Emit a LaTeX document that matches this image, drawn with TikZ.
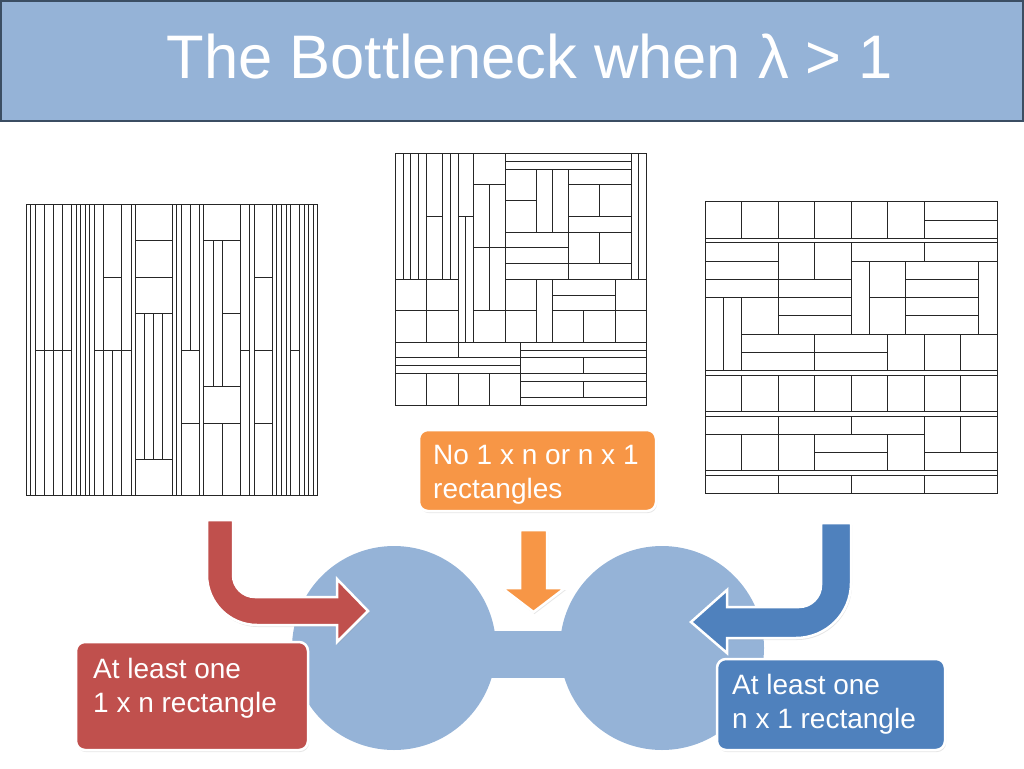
\documentclass[tikz,border=0pt]{standalone}
\usepackage{fontspec}
\setmainfont{Liberation Sans}
\usetikzlibrary{shadows}
\definecolor{blobblue}{HTML}{95B3D7}
\definecolor{titleedge}{HTML}{3B4E63}
\definecolor{boxred}{HTML}{C0504D}
\definecolor{boxorange}{HTML}{F79646}
\definecolor{boxblue}{HTML}{4F81BD}
\begin{document}
\begin{tikzpicture}[x=1pt,y=-1pt,
  tile/.style={draw=black!85, line width=0.7pt},
  blob/.style={fill=blobblue},
  fatarrow/.style={draw=white, line width=2.5pt, drop shadow={opacity=0.2, shadow xshift=1pt, shadow yshift=-2pt}},
  labelbox/.style={rounded corners=9pt, draw=white, line width=2.5pt, drop shadow={opacity=0.2, shadow xshift=1pt, shadow yshift=-2pt}},
  labeltext/.style={text=white, font=\fontsize{28}{34}\selectfont, align=left, inner sep=0pt}]
\useasboundingbox (0,0) rectangle (1024,768);
% title bar
\draw [fill=blobblue, draw=titleedge, line width=2pt] (1,1) rectangle (1023,121);
\node [text=white, font=\fontsize{61.5}{70}\selectfont, anchor=base] (title) at (530,78) {The Bottleneck when λ > 1};
% tiling with 1 x n strips
\begin{scope}[xshift=26pt, yshift=-204pt, x=4.56pt, y=-4.56pt]
\draw [tile] (0,0) rectangle (1,64) (1,0) rectangle (2,64)
  (10,0) rectangle (11,64) (11,0) rectangle (12,64) (12,0) rectangle (13,64) (13,0) rectangle (14,64) (14,0) rectangle (15,64)
  (23,0) rectangle (24,64) (32,0) rectangle (33,64) (33,0) rectangle (34,64) (38,0) rectangle (39,64) (49,0) rectangle (50,64)
  (54,0) rectangle (55,64) (55,0) rectangle (56,64) (56,0) rectangle (57,64) (57,0) rectangle (58,64)
  (60,0) rectangle (61,64) (61,0) rectangle (62,64) (62,0) rectangle (63,64) (63,0) rectangle (64,64);
\draw [tile] (2,0) rectangle (4,32) (4,0) rectangle (6,32) (6,0) rectangle (8,32) (8,0) rectangle (10,32)
  (2,32) rectangle (4,64) (4,32) rectangle (6,64) (6,32) rectangle (8,64) (8,32) rectangle (10,64);
\draw [tile] (15,0) rectangle (17,32) (15,32) rectangle (17,64) (17,0) rectangle (21,16) (17,16) rectangle (21,32)
  (17,32) rectangle (19,64) (19,32) rectangle (21,64) (21,0) rectangle (23,32) (21,32) rectangle (23,64);
\draw [tile] (24,0) rectangle (32,8) (24,8) rectangle (32,16) (24,16) rectangle (32,24) (24,56) rectangle (32,64)
  (24,24) rectangle (26,56) (26,24) rectangle (28,56) (28,24) rectangle (30,56) (30,24) rectangle (32,56);
\draw [tile] (34,0) rectangle (36,32) (36,0) rectangle (38,32) (34,32) rectangle (38,48) (34,48) rectangle (38,64);
\draw [tile] (39,0) rectangle (47,8) (39,8) rectangle (41,40) (41,8) rectangle (43,40) (43,8) rectangle (47,24)
  (43,24) rectangle (47,40) (39,40) rectangle (47,48) (39,48) rectangle (43,64) (43,48) rectangle (47,64);
\draw [tile] (47,0) rectangle (49,32) (47,32) rectangle (49,64) (50,0) rectangle (54,16) (50,16) rectangle (54,32)
  (50,32) rectangle (54,48) (50,48) rectangle (54,64) (58,0) rectangle (60,32) (58,32) rectangle (60,64);
\end{scope}
% tiling with neither
\begin{scope}[xshift=395pt, yshift=-153.3pt, x=7.865pt, y=-7.865pt]
\draw [tile] (0,0) rectangle (1,16) (1,0) rectangle (2,16) (2,0) rectangle (3,16) (3,0) rectangle (4,16)
  (4,0) rectangle (6,8) (4,8) rectangle (6,16) (6,0) rectangle (7,16) (7,0) rectangle (8,16)
  (0,16) rectangle (4,20) (4,16) rectangle (8,20) (0,20) rectangle (4,24) (4,20) rectangle (8,24);
\draw [tile] (8,0) rectangle (10,8) (8,8) rectangle (9,24) (9,8) rectangle (10,24)
  (10,0) rectangle (14,4) (10,4) rectangle (12,12) (12,4) rectangle (14,12) (10,12) rectangle (12,20)
  (12,12) rectangle (14,20) (10,20) rectangle (14,24);
\draw [tile] (14,0) rectangle (30,1) (14,1) rectangle (30,2) (30,0) rectangle (31,16) (31,0) rectangle (32,16)
  (14,2) rectangle (18,6) (14,6) rectangle (18,10) (18,2) rectangle (20,10) (20,2) rectangle (22,10)
  (22,2) rectangle (30,4) (22,4) rectangle (26,8) (26,4) rectangle (30,8) (22,8) rectangle (30,10)
  (22,10) rectangle (26,14) (26,10) rectangle (30,14) (22,14) rectangle (30,16)
  (14,10) rectangle (22,12) (14,12) rectangle (22,14) (14,14) rectangle (22,16);
\draw [tile] (14,16) rectangle (18,20) (14,20) rectangle (18,24) (18,16) rectangle (20,24)
  (20,16) rectangle (28,18) (20,18) rectangle (28,20) (20,20) rectangle (24,24) (24,20) rectangle (28,24)
  (28,16) rectangle (32,20) (28,20) rectangle (32,24);
\draw [tile] (0,24) rectangle (8,26) (8,24) rectangle (16,26) (0,26) rectangle (16,27) (0,27) rectangle (16,28)
  (0,28) rectangle (4,32) (4,28) rectangle (8,32) (8,28) rectangle (12,32) (12,28) rectangle (16,32);
\draw [tile] (16,24) rectangle (32,25) (16,25) rectangle (32,26) (16,26) rectangle (24,28) (24,26) rectangle (32,28)
  (16,28) rectangle (32,29) (16,29) rectangle (24,31) (24,29) rectangle (32,31) (16,31) rectangle (32,32);
\end{scope}
% tiling with n x 1 strips
\begin{scope}[xshift=705pt, yshift=-201.7pt, x=4.56pt, y=-4.56pt]
\draw [tile] (0,0) rectangle (8,8) (8,0) rectangle (16,8) (16,0) rectangle (24,8) (24,0) rectangle (32,8)
  (32,0) rectangle (40,8) (40,0) rectangle (48,8) (48,0) rectangle (64,4) (48,4) rectangle (64,8)
  (0,8) rectangle (64,9) (0,37) rectangle (64,38) (0,46) rectangle (64,47) (0,59) rectangle (64,60);
\draw [tile] (0,9) rectangle (16,13) (0,13) rectangle (16,17) (0,17) rectangle (16,21)
  (16,9) rectangle (24,17) (24,9) rectangle (32,17) (16,17) rectangle (32,21) (16,21) rectangle (32,25) (16,25) rectangle (32,29)
  (32,9) rectangle (48,13) (48,9) rectangle (64,13) (32,13) rectangle (36,29) (36,13) rectangle (44,21) (36,21) rectangle (44,29)
  (44,13) rectangle (60,17) (44,17) rectangle (60,21) (44,21) rectangle (60,25) (44,25) rectangle (60,29) (60,13) rectangle (64,29);
\draw [tile] (0,21) rectangle (4,37) (4,21) rectangle (8,37) (8,21) rectangle (16,29)
  (8,29) rectangle (24,33) (8,33) rectangle (24,37) (24,29) rectangle (40,33) (24,33) rectangle (40,37)
  (40,29) rectangle (48,37) (48,29) rectangle (56,37) (56,29) rectangle (64,37);
\draw [tile] (0,38) rectangle (8,46) (8,38) rectangle (16,46) (16,38) rectangle (24,46) (24,38) rectangle (32,46)
  (32,38) rectangle (40,46) (40,38) rectangle (48,46) (48,38) rectangle (56,46) (56,38) rectangle (64,46);
\draw [tile] (0,47) rectangle (16,51) (16,47) rectangle (32,51) (32,47) rectangle (48,51)
  (48,47) rectangle (56,55) (56,47) rectangle (64,55) (48,55) rectangle (64,59)
  (0,51) rectangle (8,59) (8,51) rectangle (16,59) (16,51) rectangle (24,59)
  (24,51) rectangle (40,55) (24,55) rectangle (40,59) (40,51) rectangle (48,59)
  (0,60) rectangle (16,64) (16,60) rectangle (32,64) (32,60) rectangle (48,64) (48,60) rectangle (64,64);
\end{scope}
% the two blobs and the neck
\fill [blob] (394,648) circle [radius=102];
\fill [blob] (662,648) circle [radius=102];
\fill [blob] (394,631) rectangle (662,678);
% bent and straight arrows
\path [fill=boxred, fatarrow] (207,520) -- (207,575) arc [start angle=180, end angle=90, radius=50]
  -- (337,625) -- (337,642) -- (368,611) -- (337,579) -- (337,597) -- (255,597)
  arc [start angle=90, end angle=180, radius=22] -- (233,520) -- cycle;
\path [fill=boxorange, fatarrow] (520,530) -- (520,588) -- (502,588) -- (533.5,612) -- (565,588) -- (547,588) -- (547,530) -- cycle;
\path [fill=boxblue, fatarrow] (851,523) -- (851,583) arc [start angle=0, end angle=90, radius=55]
  -- (727,638) -- (727,653) -- (691,622) -- (727,590) -- (727,607) -- (799,607)
  arc [start angle=90, end angle=0, radius=22] -- (821,523) -- cycle;
% labels (base is the last line)
\node [labelbox, fill=boxorange, minimum width=237pt, minimum height=81pt] (orangebox) at (537.5,470.5) {};
\node [labeltext, anchor=base west] (orangetext) at (433,498) {No 1 x n or n x 1\\rectangles};
\node [labelbox, fill=boxred, minimum width=232pt, minimum height=108pt] (redbox) at (192,696) {};
\node [labeltext, anchor=base west] (redtext) at (93,712) {At least one\\1 x n rectangle};
\node [labelbox, fill=boxblue, minimum width=228pt, minimum height=91pt] (bluebox) at (831,704.5) {};
\node [labeltext, anchor=base west] (bluetext) at (732,728) {At least one\\n x 1 rectangle};
\end{tikzpicture}
\end{document}
